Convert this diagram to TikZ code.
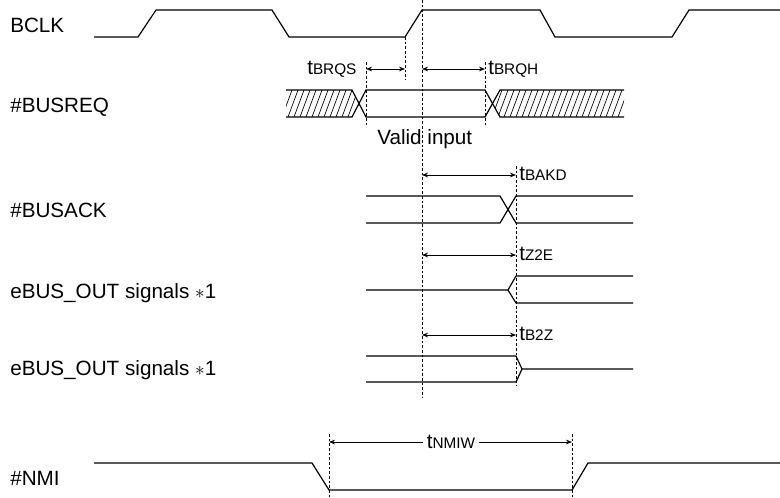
\documentclass[tikz,border=0pt]{standalone}
\usepackage{fontspec}
\setmainfont{Liberation Sans}
\usetikzlibrary{arrows.meta}
\newcommand{\sigfont}{\fontsize{15.5}{18}\selectfont}
\newcommand{\tsub}[1]{t{\fontsize{11.5}{13}\selectfont #1}}

\begin{document}
\begin{tikzpicture}[x=0.75pt,y=0.75pt,yscale=-1,xscale=1,
  wave/.style={line width=0.9pt},
  guide/.style={dash pattern=on 2pt off 1.5pt, line width=0.5pt},
  dim/.style={{Stealth[length=4.5pt,width=3.5pt]}-{Stealth[length=4.5pt,width=3.5pt]}, line width=0.6pt},
  lbl/.style={anchor=base west, inner sep=0pt, font=\sigfont}]
\useasboundingbox (0,0) rectangle (780,497);

%Guides
\draw [guide] (422,0) -- (422,398) ;
\draw [guide] (405,37) -- (405,80) ;
\draw [guide] (366,62) -- (366,125) ;
\draw [guide] (485,62) -- (485,125) ;
\draw [guide] (516,166) -- (516,386) ;
\draw [guide] (329,434) -- (329,497) ;
\draw [guide] (572,434) -- (572,497) ;

%BCLK
\draw [wave] (94,37) -- (138,37) -- (156,10) -- (272,10) -- (289,37) -- (405,37) -- (422,10) -- (540,10) -- (555,37) -- (672,37) -- (689,10) -- (780,10) ;

%#BUSREQ hatching
\begin{scope}
\clip (286,90) -- (352,90) -- (359,103.5) -- (352,117) -- (286,117) -- cycle (500,90) -- (624,90) -- (624,117) -- (500,117) -- (492.5,103.5) -- cycle ;
\foreach \x in {276,282,...,630} \draw [line width=0.5pt] (\x,117) -- (\x+10,90) ;
\end{scope}
%#BUSREQ
\draw [wave] (286,90) -- (352,90) -- (366,117) -- (485,117) -- (500,90) -- (624,90) ;
\draw [wave] (286,117) -- (352,117) -- (366,90) -- (485,90) -- (500,117) -- (624,117) ;

%#BUSACK
\draw [wave] (366,196) -- (500,196) -- (516,223) -- (633,223) ;
\draw [wave] (366,223) -- (500,223) -- (516,196) -- (633,196) ;

%eBUS_OUT (Z to enabled)
\draw [wave] (366,290) -- (508,290) -- (516,276) -- (633,276) ;
\draw [wave] (508,290) -- (516,303) -- (633,303) ;

%eBUS_OUT (enabled to Z)
\draw [wave] (366,356) -- (516,356) -- (522,369) -- (633,369) ;
\draw [wave] (366,382) -- (516,382) -- (522,369) ;

%#NMI
\draw [wave] (94,463) -- (312,463) -- (329,490) -- (572,490) -- (588,463) -- (780,463) ;

%Timing arrows
\draw [dim] (366,69) -- (405,69) ;
\draw [dim] (422,69) -- (485,69) ;
\draw [dim] (422,175) -- (516,175) ;
\draw [dim] (422,255) -- (516,255) ;
\draw [dim] (422,335) -- (516,335) ;
\draw [dim] (329,442) -- (572,442) ;

% Text Node
\draw (10,32) node [lbl] (bclk) {BCLK};
% Text Node
\draw (10,112) node [lbl] (busreq) {\#BUSREQ};
% Text Node
\draw (10,217) node [lbl] (busack) {\#BUSACK};
% Text Node
\draw (10,298) node [lbl] (ebusa) {eBUS\_OUT signals $\ast$1};
% Text Node
\draw (10,375) node [lbl] (ebusb) {eBUS\_OUT signals $\ast$1};
% Text Node
\draw (10,485) node [lbl] (nmi) {\#NMI};
% Text Node
\draw (377,144) node [lbl] (valid) {Valid input};
% Text Node
\draw (307,74) node [lbl] (brqs) {\tsub{BRQS}};
% Text Node
\draw (488,74) node [lbl] (brqh) {\tsub{BRQH}};
% Text Node
\draw (519,180) node [lbl] (bakd) {\tsub{BAKD}};
% Text Node
\draw (519,260) node [lbl] (ztoe) {\tsub{Z2E}};
% Text Node
\draw (519,340) node [lbl] (btoz) {\tsub{B2Z}};
% Text Node
\draw (451,448) node [anchor=base, inner sep=0pt, outer sep=0pt, fill=white, font=\sigfont] (nmiw) {\,\tsub{NMIW}\,};
\end{tikzpicture}
\end{document}
